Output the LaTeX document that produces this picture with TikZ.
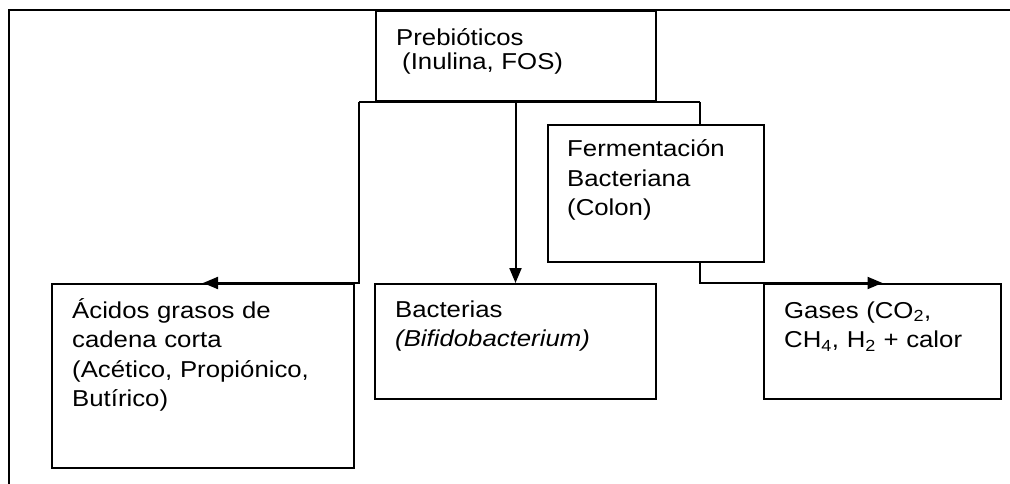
\documentclass[tikz,border=0pt]{standalone}
\usepackage{fontspec}
\setmainfont[FakeStretch=1.12]{Liberation Sans}
\usetikzlibrary{calc, arrows.meta}

\tikzset{
	caja/.style={draw, line width=2pt, inner sep=0pt, anchor=north west},
	texto/.style={anchor=base west, inner sep=0pt, align=left, text width=260pt, font=\fontsize{23}{29.5}\selectfont},
	linea/.style={line width=2pt},
	flecha/.style={line width=2pt, -{Triangle[length=15pt, width=12pt]}}
}

\begin{document}
\begin{tikzpicture}[x=1pt, y=-1pt]
					\useasboundingbox (0,0) rectangle (1010,484);
					\def\pad{21};
					
					\draw [linea] (1010,10) -- (9,10) -- (9,484);
					
					\begin{scope}
						\node [caja, minimum width=280pt, minimum height=90pt] (preb) at (375,10) {};
						\node [caja, minimum width=216pt, minimum height=137pt] (ferm) at (547,124) {};
						\node [caja, minimum width=302pt, minimum height=184pt] (acid) at (51,283) {};
						\node [caja, minimum width=281pt, minimum height=115pt] (bact) at (374,283) {};
						\node [caja, minimum width=237pt, minimum height=115pt] (gas) at (763,283) {};
					\end{scope}
					
					\begin{scope}
						\node [texto, font=\fontsize{23}{24}\selectfont] (preb-t) at ($ (preb.north west) + (\pad,36) $) {Prebióticos\\\hspace*{6pt}(Inulina, FOS)};
						\node [texto, text width=190pt] (ferm-t) at ($ (ferm.north west) + (\pad-1,33) $) {Fermentación\\Bacteriana\\(Colon)};
						\node [texto] (acid-t) at ($ (acid.north west) + (\pad,35) $) {Ácidos grasos de\\cadena corta\\(Acético, Propiónico,\\Butírico)};
						\node [texto] (bact-t) at ($ (bact.north west) + (\pad,34) $) {Bacterias\\\textit{(Bifidobacterium)}};
						\node [texto, text width=210pt] (gas-t) at ($ (gas.north west) + (\pad,35) $) {Gases (CO\textsubscript{2},\\CH\textsubscript{4}, H\textsubscript{2} + calor};
					\end{scope}
					
					\begin{scope}
						\coordinate (izq) at ($ (preb.south west) + (-16,0) $);
						\coordinate (der) at ($ (preb.south east) + (43,0) $);
						
						\draw [linea] (izq) -- (der);
						\draw [flecha] (izq) |- (acid.north);
						\draw [flecha] (bact.north |- izq) -- (bact.north);
						\draw [linea] (der) -- (der |- ferm.north);
						\draw [flecha] (der |- ferm.south) |- (gas.north);
					\end{scope}
				\end{tikzpicture}
\end{document}
